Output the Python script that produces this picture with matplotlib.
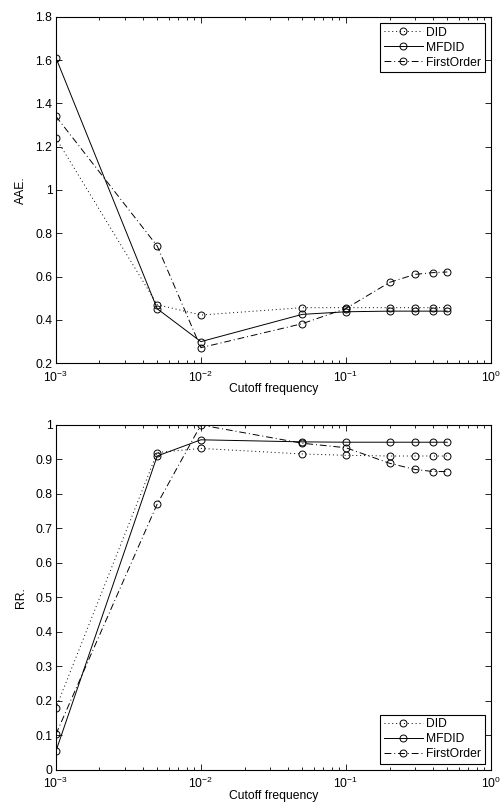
import numpy as np
import matplotlib
matplotlib.use('Agg')
import matplotlib.pyplot as plt
from matplotlib.ticker import FuncFormatter, LogLocator

plt.rcParams['font.family'] = ['Liberation Sans', 'DejaVu Sans']
fs = 8.7

# cutoff frequencies
freq = [0.001, 0.005, 0.01, 0.05, 0.1, 0.2, 0.3, 0.4, 0.5]

# AAE
aae_did = [1.24, 0.47, 0.422, 0.456, 0.456, 0.456, 0.456, 0.456, 0.456]
aae_mfdid = [1.612, 0.451, 0.299, 0.425, 0.437, 0.44, 0.44, 0.44, 0.44]
aae_first = [1.341, 0.741, 0.271, 0.382, 0.452, 0.573, 0.61, 0.618, 0.621]

# RR
rr_did = [0.179, 0.92, 0.932, 0.916, 0.912, 0.91, 0.91, 0.91, 0.91]
rr_mfdid = [0.054, 0.91, 0.957, 0.951, 0.95, 0.95, 0.95, 0.95, 0.95]
rr_first = [0.103, 0.771, 1.0, 0.947, 0.934, 0.889, 0.871, 0.865, 0.865]

labels = ['DID', 'MFDID', 'FirstOrder']
styles = [(0, (1, 3)), '-', (0, (7, 3, 1, 3))]

fig = plt.figure(figsize=(5.03, 8.05), dpi=100)
ax1 = fig.add_axes([0.111, 0.549, 0.865, 0.430])
ax2 = fig.add_axes([0.111, 0.0435, 0.865, 0.4286])


def draw(ax, series, ylim, yticks, ylabel, loc):
    for ys, ls, lab in zip(series, styles, labels):
        ax.plot(freq, ys, linestyle=ls, color='k', linewidth=0.7,
                marker='o', markersize=5, markerfacecolor='none',
                markeredgecolor='k', markeredgewidth=0.7, label=lab)
    ax.set_xscale('log')
    ax.set_xlim(1e-3, 1)
    ax.set_ylim(*ylim)
    ax.set_yticks(yticks)
    ax.yaxis.set_major_formatter(FuncFormatter(lambda v, p: '%g' % round(v, 2)))
    ax.xaxis.set_major_locator(LogLocator(base=10, numticks=10))
    ax.xaxis.set_minor_locator(LogLocator(base=10, subs=np.arange(2, 10), numticks=10))
    ax.tick_params(which='both', direction='in', top=True, right=True,
                   labelsize=fs, width=0.6)
    ax.tick_params(which='major', length=4)
    ax.tick_params(which='minor', length=2)
    ax.tick_params(axis='y', pad=2.5)
    ax.tick_params(axis='x', pad=4.5)
    ax.set_xlabel('Cutoff frequency', fontsize=fs, labelpad=-1)
    ax.set_ylabel(ylabel, fontsize=fs, labelpad=6)
    for s in ax.spines.values():
        s.set_linewidth(0.8)
    leg = ax.legend(loc=loc, fontsize=fs, fancybox=False, edgecolor='k',
                    framealpha=1, handlelength=3.2, borderpad=0.3,
                    labelspacing=0.25, handletextpad=0.3,
                    borderaxespad=0.5)
    leg.get_frame().set_linewidth(0.8)


draw(ax1, [aae_did, aae_mfdid, aae_first], (0.2, 1.8),
     np.arange(0.2, 1.81, 0.2), 'AAE.', 'upper right')
draw(ax2, [rr_did, rr_mfdid, rr_first], (0, 1),
     np.arange(0, 1.01, 0.1), 'RR.', 'lower right')

plt.savefig('out.png', dpi=100)
